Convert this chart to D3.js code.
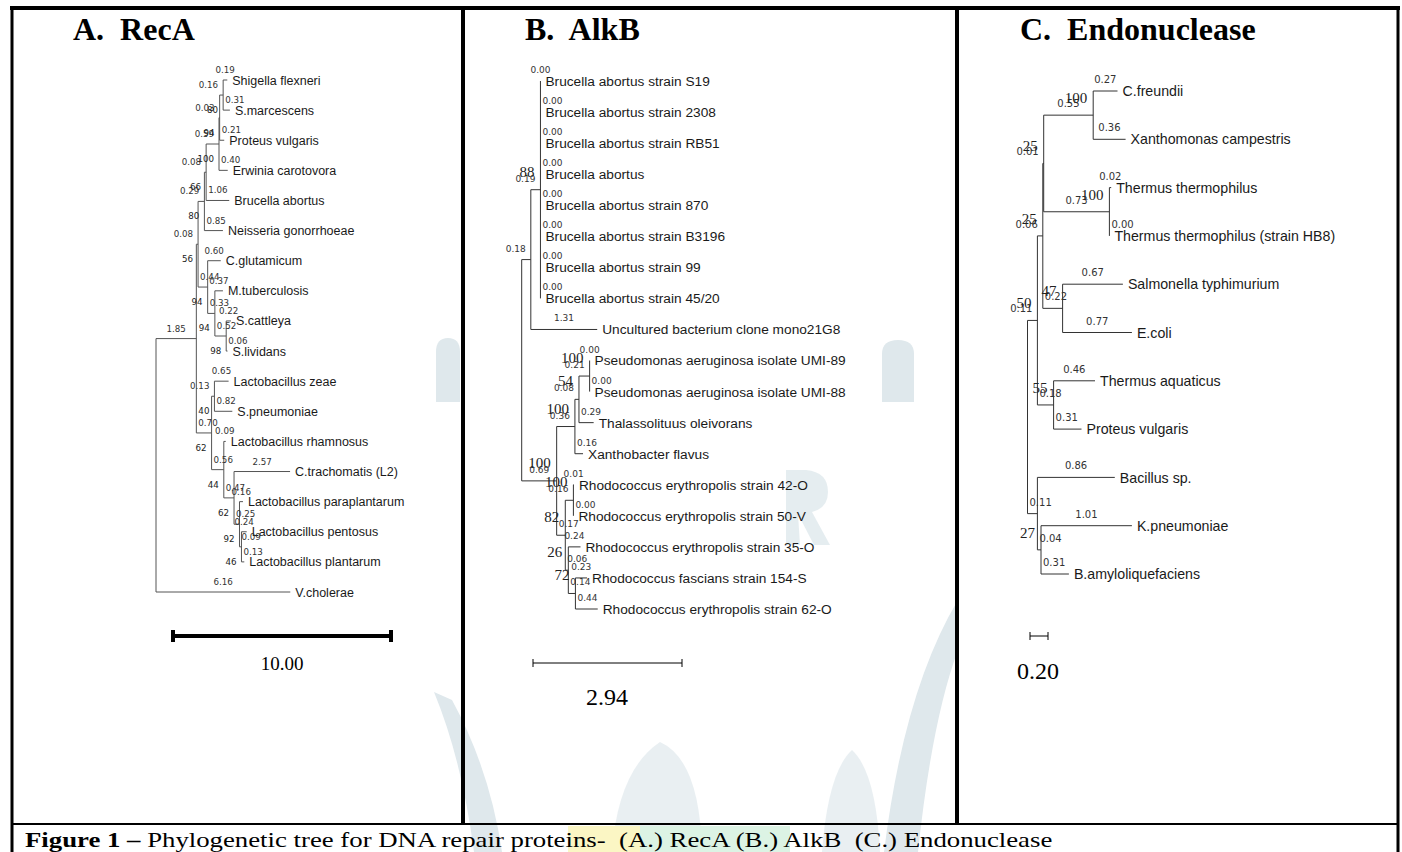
<!DOCTYPE html>
<html><head><meta charset="utf-8">
<script src="https://cdn.jsdelivr.net/npm/d3@7"></script>
<style>body{margin:0;background:#fff}svg{display:block}</style>
</head><body><svg id="c" width="1402" height="852"></svg>
<script>
// ---------------- DATA ----------------
// Panel A: RecA
const recaLeafNames = ["Shigella flexneri","S.marcescens","Proteus vulgaris","Erwinia carotovora","Brucella abortus","Neisseria gonorrhoeae","C.glutamicum","M.tuberculosis","S.cattleya","S.lividans","Lactobacillus zeae","S.pneumoniae","Lactobacillus rhamnosus","C.trachomatis (L2)","Lactobacillus paraplantarum","Lactobacillus pentosus","Lactobacillus plantarum","V.cholerae"];
const recaLeafLengths = [0.19,0.31,0.21,0.40,1.06,0.85,0.60,0.37,0.22,0.06,0.65,0.82,0.09,2.57,0.16,0.24,0.13,6.16];
// [id, children, branch length, bootstrap]
const recaInternal = [
  ["Q",["Shigella flexneri","S.marcescens"],0.16,80],
  ["P",["Q","Proteus vulgaris"],0.03,94],
  ["X",["P","Erwinia carotovora"],0.59,100],
  ["Y",["X","Brucella abortus"],0.08,66],
  ["W",["Y","Neisseria gonorrhoeae"],0.29,80],
  ["SS",["S.cattleya","S.lividans"],0.52,98],
  ["MS",["M.tuberculosis","SS"],0.33,94],
  ["CM",["C.glutamicum","MS"],0.44,94],
  ["V",["W","CM"],0.08,56],
  ["ZS",["Lactobacillus zeae","S.pneumoniae"],0.13,40],
  ["PP",["Lactobacillus pentosus","Lactobacillus plantarum"],0.09,46],
  ["U",["Lactobacillus paraplantarum","PP"],0.25,92],
  ["T",["C.trachomatis (L2)","U"],0.47,62],
  ["R",["Lactobacillus rhamnosus","T"],0.56,44],
  ["L",["ZS","R"],0.70,62],
  ["N1",["V","L"],1.85,null],
  ["root",["N1","V.cholerae"],0,null]
];
// Panel B: AlkB
const alkbLeafNames = ["Brucella abortus strain S19","Brucella abortus strain 2308","Brucella abortus strain RB51","Brucella abortus","Brucella abortus strain 870","Brucella abortus strain B3196","Brucella abortus strain 99","Brucella abortus strain 45/20","Uncultured bacterium clone mono21G8","Pseudomonas aeruginosa isolate UMI-89","Pseudomonas aeruginosa isolate UMI-88","Thalassolituus oleivorans","Xanthobacter flavus","Rhodococcus erythropolis strain 42-O","Rhodococcus erythropolis strain 50-V","Rhodococcus erythropolis strain 35-O","Rhodococcus fascians strain 154-S","Rhodococcus erythropolis strain 62-O"];
const alkbLeafLengths = [0.00,0.00,0.00,0.00,0.00,0.00,0.00,0.00,1.31,0.00,0.00,0.29,0.16,0.01,0.00,0.24,0.23,0.44];
const alkbInternal = [
  ["B1",alkbLeafNames.slice(0,8),0.19,88],
  ["B0",["B1","Uncultured bacterium clone mono21G8"],0.18,null],
  ["PA",["Pseudomonas aeruginosa isolate UMI-89","Pseudomonas aeruginosa isolate UMI-88"],0.21,100],
  ["PT",["PA","Thalassolituus oleivorans"],0.08,54],
  ["PX",["PT","Xanthobacter flavus"],0.36,100],
  ["RE",["Rhodococcus erythropolis strain 42-O","Rhodococcus erythropolis strain 50-V"],0.16,100],
  ["R3",["Rhodococcus fascians strain 154-S","Rhodococcus erythropolis strain 62-O"],0.14,72],
  ["R2",["Rhodococcus erythropolis strain 35-O","R3"],0.06,26],
  ["R1",["RE","R2"],0.17,82],
  ["PR",["PX","R1"],0.69,100],
  ["root",["B0","PR"],0,null]
];
// Panel C: Endonuclease
const endoLeafNames = ["C.freundii","Xanthomonas campestris","Thermus thermophilus","Thermus thermophilus (strain HB8)","Salmonella typhimurium","E.coli","Thermus aquaticus","Proteus vulgaris","Bacillus sp.","K.pneumoniae","B.amyloliquefaciens"];
const endoLeafLengths = [0.27,0.36,0.02,0.00,0.67,0.77,0.46,0.31,0.86,1.01,0.31];
const endoInternal = [
  ["CX",["C.freundii","Xanthomonas campestris"],0.55,100],
  ["TT",["Thermus thermophilus","Thermus thermophilus (strain HB8)"],0.73,100],
  ["Na",["CX","TT"],0.01,25],
  ["SE",["Salmonella typhimurium","E.coli"],0.22,47],
  ["Nb",["Na","SE"],0.06,25],
  ["TA",["Thermus aquaticus","Proteus vulgaris"],0.18,55],
  ["Nc",["Nb","TA"],0.11,50],
  ["KB",["K.pneumoniae","B.amyloliquefaciens"],0.04,27],
  ["BK",["Bacillus sp.","KB"],0.11,null],
  ["root",["Nc","BK"],0,null]
];
const panelTitles = ["A.  RecA","B.  AlkB","C.  Endonuclease"];
const scaleBarValues = [10.00, 2.94, 0.20];
const scaleBarLabels = ["10.00","2.94","0.20"];
const captionBold = "Figure 1 \u2013";
const captionRest = " Phylogenetic tree for DNA repair proteins-  (A.) RecA (B.) AlkB  (C.) Endonuclease";

// ---------------- DRAW ----------------
const svg = d3.select("#c");
const SERIF = "'Liberation Serif','Times New Roman',serif";
const SANS = "'Liberation Sans',Arial,sans-serif";
const SMALL = "'DejaVu Sans',Verdana,sans-serif";

svg.append("rect").attr("width",1402).attr("height",852).attr("fill","#fff");

// faint background watermark (decorative)
const wm = svg.append("g").attr("fill","#dfe8ec").attr("stroke","none");
wm.append("path").attr("d","M436 352 Q436 338 448 338 Q460 338 460 352 L460 402 L436 402 Z");
wm.append("path").attr("d","M882 354 Q882 340 898 340 Q914 340 914 354 L914 402 L882 402 Z");
wm.append("path").attr("d","M434 692 Q462 760 474 852 L502 852 Q490 770 452 700 Z");
wm.append("path").attr("d","M958 600 Q904 690 884 852 L918 852 Q932 720 958 650 Z");
wm.append("path").attr("d","M612 852 Q618 770 660 742 Q700 760 702 852 Z").attr("opacity",0.7);
wm.append("path").attr("d","M822 852 Q828 772 852 750 Q876 772 880 852 Z").attr("opacity",0.7);
wm.append("path").attr("d","M786 470 L806 470 Q828 472 828 492 Q828 508 812 512 L830 545 L814 545 L798 514 L800 545 L786 545 Z").attr("opacity",0.8);

function buildTree(leafNames, leafLengths, internal){
  const map = new Map();
  leafNames.forEach((n,i)=>map.set(n,{name:n,len:leafLengths[i],leafIndex:i}));
  internal.forEach(([id,ch,len,bs])=>map.set(id,{name:id,len:len,bs:bs}));
  internal.forEach(([id,ch])=>{map.get(id).children = ch.map(c=>map.get(c));});
  const root = d3.hierarchy(map.get("root"));
  root.eachBefore(d=>{d.dist = d.parent ? d.parent.dist + d.data.len : 0;});
  return root;
}

function drawTree(cfg){
  const root = buildTree(cfg.names, cfg.lengths, cfg.internal);
  const x = d3.scaleLinear().domain([0, cfg.unit]).range([cfg.x0, cfg.x0 + cfg.unitPx]);
  const y = d3.scaleLinear().domain([0, cfg.names.length-1]).range([cfg.yTop, cfg.yBot]);
  root.eachAfter(d=>{
    d.px = x(d.dist);
    if(d.children){ d.py = (d.children[0].py + d.children[d.children.length-1].py)/2; }
    else d.py = y(d.data.leafIndex);
  });
  const g = svg.append("g");
  const nodes = root.descendants();
  g.selectAll("line.v").data(nodes.filter(d=>d.children)).join("line")
    .attr("x1",d=>d.px).attr("x2",d=>d.px)
    .attr("y1",d=>d.children[0].py).attr("y2",d=>d.children[d.children.length-1].py)
    .attr("stroke",cfg.lineColor).attr("stroke-width",1);
  g.selectAll("line.h").data(nodes.filter(d=>d.parent)).join("line")
    .attr("x1",d=>d.parent.px).attr("x2",d=>d.px)
    .attr("y1",d=>d.py).attr("y2",d=>d.py)
    .attr("stroke",cfg.lineColor).attr("stroke-width",1);
  g.selectAll("text.leaf").data(root.leaves()).join("text")
    .attr("x",d=>d.px + 5).attr("y",d=>d.py)
    .attr("dy","0.36em")
    .attr("font-family",SANS).attr("font-size",cfg.leafFont).attr("fill","#1a1a1a")
    .text(d=>d.data.name);
  // branch length labels (MEGA-like placement)
  const blFs = cfg.blFont, blW = blFs*2.22;
  function place(d){
    const len = d.px - d.parent.px;
    const first = d.parent.children[0] === d;
    if(len >= blW + 6) return [(d.px + d.parent.px)/2, "middle"];
    if(first) return d.children ? [d.px - 5, "end"] : [(d.px + d.parent.px)/2, "middle"];
    return [d.parent.px + 2, "start"];
  }
  g.selectAll("text.bl").data(nodes.filter(d=>d.parent)).join("text")
    .attr("x",d=>place(d)[0]).attr("text-anchor",d=>place(d)[1])
    .attr("y",d=>d.py - cfg.blOff)
    .attr("font-family",SMALL).attr("font-size",blFs).attr("fill","#333")
    .text(d=>d.data.len.toFixed(2));
  g.selectAll("text.bs").data(nodes.filter(d=>d.data.bs!=null)).join("text")
    .attr("x",d=>d.px - cfg.bsDx).attr("y",d=>d.py + cfg.bsDy)
    .attr("text-anchor","end")
    .attr("font-family",cfg.bsFamily).attr("font-size",cfg.bsFont).attr("fill","#222")
    .text(d=>d.data.bs);
  return x;
}

const panels = [
  {names:recaLeafNames,lengths:recaLeafLengths,internal:recaInternal,unit:10,unitPx:218,x0:156,yTop:80,yBot:592,
   lineColor:"#555",leafFont:12.5,blFont:8.7,blOff:7,bsDx:5,bsDy:18,bsFamily:SMALL,bsFont:8.7,
   titleX:73, bar:{x:173,y:636,w:4,tick:12}, barLabel:{x:282,y:670,fs:19}},
  {names:alkbLeafNames,lengths:alkbLeafLengths,internal:alkbInternal,unit:2.94,unitPx:149,x0:521.7,yTop:81,yBot:609,
   lineColor:"#333",leafFont:13.7,blFont:9,blOff:8,bsDx:6,bsDy:-13,bsFamily:SERIF,bsFont:15,
   titleX:525, bar:{x:533,y:663,w:1,tick:8}, barLabel:{x:607,y:705,fs:24}},
  {names:endoLeafNames,lengths:endoLeafLengths,internal:endoInternal,unit:0.2,unitPx:18,x0:1027.5,yTop:91,yBot:574,
   lineColor:"#333",leafFont:14.2,blFont:10,blOff:8,bsDx:6,bsDy:-12,bsFamily:SERIF,bsFont:15,
   titleX:1020, bar:{x:1030,y:636,w:1,tick:8}, barLabel:{x:1038,y:679,fs:24}}
];

panels.forEach((p,i)=>{
  const x = drawTree(p);
  svg.append("text").attr("x",p.titleX).attr("y",40)
    .attr("font-family",SERIF).attr("font-weight","bold").attr("font-size",32)
    .attr("xml:space","preserve").style("white-space","pre").attr("fill","#000")
    .text(panelTitles[i]);
  const len = x(scaleBarValues[i]) - x(0);
  const b = p.bar;
  const sb = svg.append("g").attr("stroke","#000");
  sb.append("line").attr("x1",b.x).attr("x2",b.x+len).attr("y1",b.y).attr("y2",b.y).attr("stroke-width",b.w);
  sb.append("line").attr("x1",b.x).attr("x2",b.x).attr("y1",b.y-b.tick/2).attr("y2",b.y+b.tick/2).attr("stroke-width",b.w);
  sb.append("line").attr("x1",b.x+len).attr("x2",b.x+len).attr("y1",b.y-b.tick/2).attr("y2",b.y+b.tick/2).attr("stroke-width",b.w);
  svg.append("text").attr("x",p.barLabel.x).attr("y",p.barLabel.y).attr("text-anchor","middle")
    .attr("font-family",SERIF).attr("font-size",p.barLabel.fs).attr("fill","#000")
    .text(scaleBarLabels[i]);
});

// frame
const fr = svg.append("g").attr("stroke","#000");
fr.append("line").attr("x1",10).attr("x2",1400).attr("y1",8).attr("y2",8).attr("stroke-width",4);
fr.append("line").attr("x1",12).attr("x2",12).attr("y1",6).attr("y2",852).attr("stroke-width",3);
fr.append("line").attr("x1",1398).attr("x2",1398).attr("y1",6).attr("y2",852).attr("stroke-width",3);
fr.append("line").attr("x1",463).attr("x2",463).attr("y1",6).attr("y2",823).attr("stroke-width",4);
fr.append("line").attr("x1",957).attr("x2",957).attr("y1",6).attr("y2",823).attr("stroke-width",4);
fr.append("line").attr("x1",12).attr("x2",1398).attr("y1",824).attr("y2",824).attr("stroke-width",2);

// caption highlights
svg.append("rect").attr("x",568).attr("y",826).attr("width",72).attr("height",26).attr("fill","#fbf6c4");
svg.append("rect").attr("x",640).attr("y",826).attr("width",150).attr("height",26).attr("fill","#dcf3e4");

// caption, stretched horizontally like the reference
const capG = svg.append("g");
const cap = capG.append("text").attr("x",0).attr("y",0)
  .attr("font-family",SERIF).attr("font-size",21).attr("fill","#000")
  .attr("xml:space","preserve").style("white-space","pre");
cap.append("tspan").attr("font-weight","bold").text(captionBold);
cap.append("tspan").text(captionRest);
const capW = cap.node().getComputedTextLength();
capG.attr("transform",`translate(25,847) scale(${1028/capW},1)`);
</script></body></html>
